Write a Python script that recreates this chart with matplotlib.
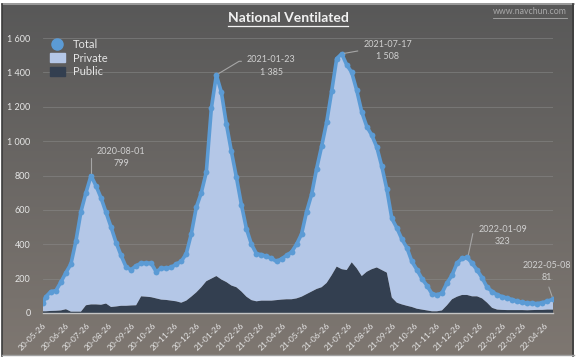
import numpy as np
import pandas as pd
import matplotlib
matplotlib.use('Agg')
import matplotlib.pyplot as plt
from matplotlib.lines import Line2D
from matplotlib.patches import Patch
from matplotlib.ticker import FuncFormatter

plt.rcParams['font.family'] = ['Lato', 'DejaVu Sans']

# dates: first day, then weekly (Saturdays), then last day
week_dates = pd.date_range('2020-05-30', '2022-04-30', freq='7D')
dates = [pd.Timestamp('2020-05-26')] + list(week_dates) + [pd.Timestamp('2022-05-08')]

total = [60,
         95, 125, 130, 180,
         235,
         285, 420, 590,
         700, 799, 740, 670, 585,
         500, 410, 335, 268, 252, 275,
         290, 290, 290, 240, 260, 262, 265, 285,
         300, 345, 460, 615, 700, 820, 1190, 1385,
         1285, 1100, 940, 790, 630, 490, 400, 345,
         339, 330, 318, 300, 315, 335, 355, 400,
         460, 590, 690, 840, 970, 1110, 1290, 1480,
         1508, 1444, 1400, 1295, 1170, 1085, 1035, 965, 853, 720,
         550, 495, 430, 380, 300, 252, 200, 160,
         112, 106, 116, 175, 220, 290, 318, 323,
         290, 250, 205, 150, 125, 106,
         95, 87, 78, 68, 62, 58, 56, 55, 60, 68,
         81]

public = [10,
          10, 12, 13, 15,
          22,
          8, 8, 8,
          45, 50, 50, 48, 55,
          35, 38, 42, 42, 44, 45,
          97, 95, 92, 85, 78, 76, 72, 68,
          60, 72, 95, 120, 150, 185, 200, 215,
          195, 180, 160, 150, 125, 95, 75, 68,
          72, 72, 72, 75, 78, 80, 80, 85,
          95, 110, 125, 140, 150, 175, 220, 270,
          255, 250, 295, 260, 215, 240, 255, 265, 250, 235,
          90, 60, 50, 42, 35, 25, 20, 15,
          10, 10, 15, 45, 80, 95, 105, 105,
          97, 97, 85, 60, 30, 20,
          18, 17, 17, 17, 17, 16, 17, 18, 18, 20,
          20]

private = [t - p for t, p in zip(total, public)]

tick_dates = pd.date_range('2020-05-26', '2022-04-26', freq=pd.DateOffset(months=1))

# annotated points: date, value, label, text offset (px), leader style
notes = [
    ('2020-08-01', 799, '2020-08-01\n799', (30, 18), 'angle,angleA=0,angleB=90', (0, 0.5)),
    ('2021-01-23', 1385, '2021-01-23\n1 385', (55, 9), 'angle,angleA=0,angleB=31', (0, 0.72)),
    ('2021-07-17', 1508, '2021-07-17\n1 508', (46, 3), 'angle,angleA=0,angleB=10', (0, 0.62)),
    ('2022-01-09', 323, '2022-01-09\n323', (35, 22), 'angle,angleA=0,angleB=78', (0, 0.6)),
    ('2022-05-08', 81, '2022-05-08\n81', (-6, 28), 'arc3', (0.5, 0.0)),
]

c_total = '#5b9bd5'
c_private = '#b4c7e7'
c_public = '#333f50'
c_text = '#e6e6e6'
c_note = '#d0d0d0'

W, H = 577, 358
fig = plt.figure(figsize=(W / 100, H / 100), dpi=100, facecolor='white')

# background panel with vertical gradient
bg = fig.add_axes([0, 0, 1, 1], zorder=-10)
bg.axis('off')
top_c = np.array([88, 88, 88]) / 255
bot_c = np.array([126, 119, 113]) / 255
t = np.linspace(0, 1, 256)[:, None, None]
grad = top_c[None, None, :] * (1 - t) + bot_c[None, None, :] * t
bg.imshow(grad, extent=(1.5, 573.5, 355.5, 3.5), aspect='auto')
bg.plot([1.5, 573.5], [3.8, 3.8], color='#a8a8a8', lw=1.2)
bg.plot([1.5, 1.5], [3.5, 355.5], color='#3c3c3c', lw=1.2)
bg.plot([573.2, 573.2], [3.5, 355.5], color='#3c3c3c', lw=1.2)
bg.plot([1.5, 573.5], [355.3, 355.3], color='#a0a0a0', lw=1.0)
bg.set_xlim(0, W)
bg.set_ylim(H, 0)

ax = fig.add_axes([43 / W, (H - 313) / H, (553 - 43) / W, (313 - 38) / H])
ax.set_facecolor('none')

ax.stackplot(dates, public, private, colors=[c_public, c_private], linewidth=0)
ax.plot(dates, total, color=c_total, lw=2.6, marker='o', ms=4.2, mew=0, zorder=5)

ax.set_ylim(0, 1600)
ax.set_xlim(pd.Timestamp('2020-05-26'), pd.Timestamp('2022-05-08'))
ax.set_yticks(range(0, 1601, 200))
ax.yaxis.set_major_formatter(FuncFormatter(lambda v, p: f'{int(v):,}'.replace(',', ' ')))
ax.grid(axis='y', color='#8c8c8c', lw=0.6, alpha=0.6)
ax.set_axisbelow(True)

ax.set_xticks(tick_dates)
ax.set_xticklabels([d.strftime('%y-%m-%d') for d in tick_dates], rotation=45,
                   ha='right', rotation_mode='anchor')
ax.tick_params(axis='x', length=0, pad=6, labelsize=6, labelcolor=c_text)
ax.tick_params(axis='y', length=0, pad=9, labelsize=6.5, labelcolor=c_text)
for s in ['top', 'right', 'left']:
    ax.spines[s].set_visible(False)
ax.spines['bottom'].set_color('#c4c4c4')
ax.spines['bottom'].set_linewidth(1.0)
ax.spines['bottom'].set_zorder(6)

for d, v, label, off, cs, rp in notes:
    ax.annotate(label, xy=(pd.Timestamp(d), v), xytext=off, textcoords='offset pixels',
                ha='center', va='center', fontsize=6.5, color=c_note, linespacing=1.45,
                arrowprops=dict(arrowstyle='-', color='#a6a6a6', lw=0.8,
                                connectionstyle=cs, relpos=rp, shrinkA=2, shrinkB=2),
                zorder=7)

handles = [Line2D([0], [0], marker='o', color='none', markerfacecolor=c_total,
                  markeredgecolor=c_total, markersize=8),
           Patch(facecolor=c_private, edgecolor=c_private),
           Patch(facecolor=c_public, edgecolor=c_public)]
leg = ax.legend(handles, ['Total', 'Private', 'Public'], loc='upper left',
                bbox_to_anchor=(0.0, 1.02), frameon=False, fontsize=8,
                labelcolor=c_text, handlelength=1.4, handleheight=0.85,
                handletextpad=0.7, labelspacing=0.22, borderaxespad=0.2)

title = fig.text(288 / W, 1 - 18 / H, 'National Ventilated', ha='center', va='center',
                 fontsize=10, fontweight='bold', color='#f2f2f2')
mark = fig.text(567 / W, 1 - 12 / H, 'www.navchun.com', ha='right', va='center',
                fontsize=6.3, color='#a8a8a8')

# underline the title and the watermark
fig.canvas.draw()
renderer = fig.canvas.get_renderer()
for txt, gap, col, lw in [(title, 1.5, '#f2f2f2', 0.9), (mark, 1.0, '#a8a8a8', 0.6)]:
    bb = txt.get_window_extent(renderer)
    y = (bb.y0 - gap) / H
    fig.add_artist(Line2D([bb.x0 / W, bb.x1 / W], [y, y], color=col, lw=lw))

fig.savefig('out.png', dpi=100, facecolor=fig.get_facecolor())
